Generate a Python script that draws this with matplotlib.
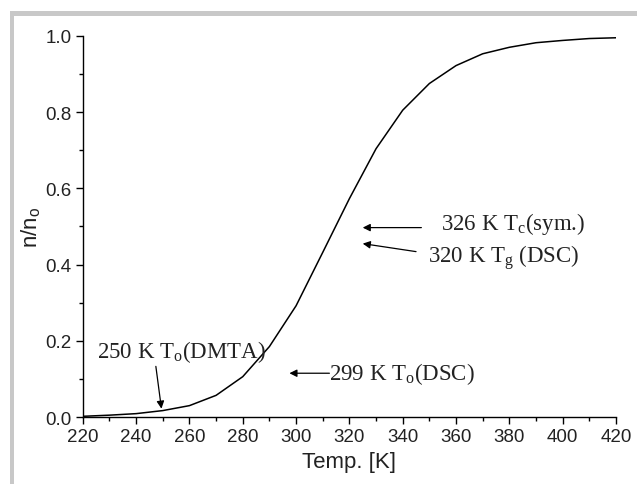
import matplotlib
matplotlib.use("Agg")
import matplotlib.pyplot as plt
from matplotlib.patches import Rectangle
from matplotlib.ticker import MultipleLocator

# data, every 10 K
temp = [220, 230, 240, 250, 260, 270, 280, 290, 300, 310, 320,
        330, 340, 350, 360, 370, 380, 390, 400, 410, 420]
ratio = [0.002, 0.005, 0.009, 0.017, 0.030, 0.057, 0.106, 0.185, 0.292, 0.432, 0.573,
         0.704, 0.805, 0.875, 0.922, 0.953, 0.970, 0.982, 0.988, 0.993, 0.995]

xticks = [220, 240, 260, 280, 300, 320, 340, 360, 380, 400, 420]
yticks = [0.0, 0.2, 0.4, 0.6, 0.8, 1.0]

# annotations: text, arrow tip, arrow tail, text position
notes = [
    (r"326 K T$_\mathrm{c}$(sym.)", (325.0, 0.497), (347.0, 0.497), (354.5, 0.508)),
    (r"320 K T$_\mathrm{g}$ (DSC)", (325.0, 0.455), (345.0, 0.434), (349.5, 0.418)),
    (r"250 K T$_\mathrm{o}$(DMTA)", (249.5, 0.022), (247.4, 0.133), (225.3, 0.173)),
    (r"299 K T$_\mathrm{o}$(DSC)", (297.5, 0.115), (312.5, 0.115), (312.5, 0.115)),
]

plt.rcParams['mathtext.fontset'] = 'custom'
plt.rcParams['mathtext.rm'] = 'Liberation Serif'
plt.rcParams['mathtext.sf'] = 'Liberation Sans'

fig = plt.figure(figsize=(6.37, 4.85), dpi=100)
ax = fig.add_axes([0.130, 0.138, 0.837, 0.786])

ax.plot(temp, ratio, color='black', lw=1.1)

ax.set_xticks(xticks)
ax.set_xticklabels([str(t) for t in xticks], family='Liberation Sans')
ax.set_yticks(yticks)
ax.set_yticklabels([f"{t:.1f}" for t in yticks], family='Liberation Sans')
ax.xaxis.set_minor_locator(MultipleLocator(10))
ax.yaxis.set_minor_locator(MultipleLocator(0.1))
ax.set_xlim(220, 420)
ax.set_ylim(0, 1.0)
ax.tick_params(which='major', direction='out', length=5, width=1, labelsize=13.5,
               colors='black', labelcolor='#222222', pad=3)
ax.tick_params(which='minor', direction='out', length=3, width=1)

for side in ['top', 'right']:
    ax.spines[side].set_visible(False)
for side in ['left', 'bottom']:
    ax.spines[side].set_linewidth(1)

ax.set_xlabel("Temp. [K]", family='Liberation Sans', fontsize=16, color='#222222', labelpad=4)
ax.set_ylabel(r"n/n$_\mathsf{o}$", family='Liberation Sans', fontsize=16, color='#222222', labelpad=2)

for txt, tip, tail, pos in notes:
    ax.annotate("", xy=tip, xytext=tail,
                arrowprops=dict(arrowstyle='-|>', color='black', lw=0.9,
                                mutation_scale=11, shrinkA=0, shrinkB=0))
    ax.text(pos[0], pos[1], txt, family='Liberation Serif', fontsize=16.5,
            ha='left', va='center', color='#222222')

# grey frame on the top and left edges
fig.add_artist(Rectangle((10 / 637, 1 - 17 / 485), 1, 5 / 485, transform=fig.transFigure,
                         color='#c8c8c8', lw=0))
fig.add_artist(Rectangle((10 / 637, 0), 4 / 637, 1 - 12 / 485, transform=fig.transFigure,
                         color='#c8c8c8', lw=0))

fig.savefig("out.png", dpi=100)
